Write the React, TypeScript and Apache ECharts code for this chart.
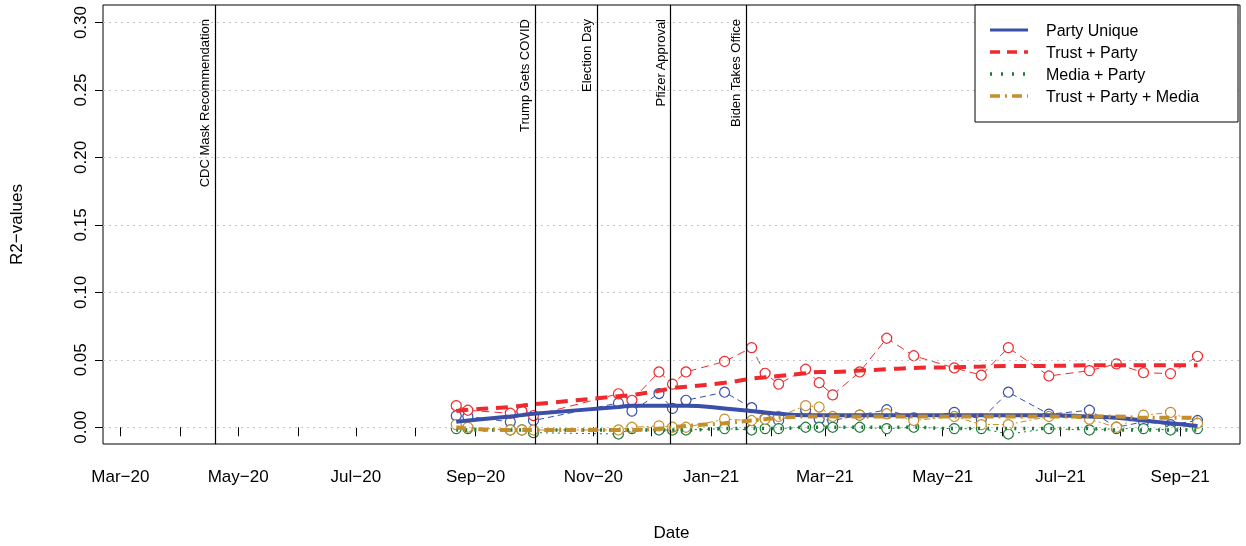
import React, { useEffect, useRef } from "react";
import * as echarts from "echarts";

const dates = ["2020-08-22", "2020-08-28", "2020-09-19", "2020-09-25", "2020-10-01", "2020-11-14", "2020-11-21", "2020-12-05", "2020-12-12", "2020-12-19", "2021-01-08", "2021-01-22", "2021-01-29", "2021-02-05", "2021-02-19", "2021-02-26", "2021-03-05", "2021-03-19", "2021-04-02", "2021-04-16", "2021-05-07", "2021-05-21", "2021-06-04", "2021-06-25", "2021-07-16", "2021-07-30", "2021-08-13", "2021-08-27", "2021-09-10"];

// 散点（各期调查的 R2）
const partyUnique = [0.0085, 0.008, 0.004, 0.012, 0.005, 0.018, 0.012, 0.025, 0.014, 0.02, 0.026, 0.0145, 0.0066, 0.005, 0.013, 0.006, 0.005, 0.009, 0.013, 0.007, 0.011, 0.006, 0.026, 0.0097, 0.0126, 0.0, 0.004, 0.002, 0.005];
const trustParty = [0.016, 0.0126, 0.0104, 0.0119, 0.0087, 0.0248, 0.02, 0.041, 0.032, 0.041, 0.0488, 0.059, 0.04, 0.032, 0.043, 0.033, 0.024, 0.041, 0.066, 0.053, 0.044, 0.0386, 0.059, 0.038, 0.042, 0.047, 0.0405, 0.0398, 0.0526];
const mediaParty = [-0.001, -0.001, -0.002, -0.002, -0.004, -0.005, -0.001, -0.002, -0.002, -0.002, -0.001, -0.002, -0.001, -0.001, 0.0, 0.0, 0.0, 0.0, -0.001, 0.0, -0.001, -0.001, -0.005, -0.001, -0.002, -0.001, -0.001, -0.002, -0.001];
const trustPartyMedia = [0.002, 0.0, -0.002, -0.002, -0.002, -0.002, 0.0, 0.001, 0.0, 0.0, 0.006, 0.005, 0.006, 0.008, 0.016, 0.015, 0.008, 0.009, 0.01, 0.005, 0.008, 0.002, 0.002, 0.008, 0.006, 0.0, 0.009, 0.011, 0.003];

// 平滑拟合
const blueFit = [0.004, 0.005, 0.008, 0.009, 0.01, 0.015, 0.016, 0.016, 0.016, 0.016, 0.014, 0.012, 0.011, 0.01, 0.009, 0.009, 0.009, 0.009, 0.009, 0.009, 0.009, 0.009, 0.009, 0.009, 0.008, 0.007, 0.005, 0.003, 0.001];
const redFit = [0.012, 0.013, 0.015, 0.016, 0.017, 0.023, 0.024, 0.027, 0.029, 0.03, 0.033, 0.036, 0.037, 0.038, 0.04, 0.041, 0.041, 0.042, 0.043, 0.044, 0.0445, 0.045, 0.0455, 0.0455, 0.046, 0.046, 0.046, 0.046, 0.046];
const greenFit = [-0.002, -0.002, -0.002, -0.002, -0.002, -0.002, -0.002, -0.002, -0.002, -0.002, -0.001, -0.001, -0.001, -0.001, 0.0, 0.0, 0.0, 0.0, 0.0, 0.0, -0.001, -0.001, -0.001, -0.001, -0.001, -0.002, -0.002, -0.002, -0.002];
const goldFit = [0.0, -0.001, -0.002, -0.002, -0.002, -0.002, -0.002, -0.001, 0.0, 0.001, 0.003, 0.005, 0.006, 0.007, 0.008, 0.008, 0.008, 0.008, 0.008, 0.008, 0.008, 0.008, 0.008, 0.008, 0.008, 0.008, 0.007, 0.007, 0.007];

// 置信带半宽
const blueHalf = [0.003, 0.003, 0.003, 0.003, 0.003, 0.003, 0.003, 0.003, 0.003, 0.003, 0.003, 0.003, 0.003, 0.003, 0.003, 0.003, 0.003, 0.003, 0.003, 0.003, 0.003, 0.003, 0.003, 0.003, 0.003, 0.003, 0.004, 0.005, 0.006];
const redHalf = [0.006, 0.006, 0.005, 0.005, 0.005, 0.005, 0.005, 0.005, 0.005, 0.005, 0.005, 0.005, 0.005, 0.005, 0.005, 0.005, 0.005, 0.005, 0.005, 0.005, 0.005, 0.005, 0.005, 0.005, 0.005, 0.006, 0.006, 0.007, 0.008];
const greenHalf = [0.002, 0.002, 0.002, 0.002, 0.002, 0.002, 0.002, 0.002, 0.002, 0.002, 0.002, 0.002, 0.002, 0.002, 0.002, 0.002, 0.002, 0.002, 0.002, 0.002, 0.002, 0.002, 0.002, 0.002, 0.002, 0.002, 0.002, 0.003, 0.003];
const goldHalf = [0.003, 0.003, 0.003, 0.003, 0.003, 0.003, 0.003, 0.003, 0.003, 0.003, 0.003, 0.003, 0.003, 0.003, 0.003, 0.003, 0.003, 0.003, 0.003, 0.003, 0.003, 0.003, 0.003, 0.003, 0.003, 0.003, 0.003, 0.004, 0.004];

const events = [
  { date: "2020-04-19", name: "CDC Mask Recommendation" },
  { date: "2020-10-02", name: "Trump Gets COVID" },
  { date: "2020-11-03", name: "Election Day" },
  { date: "2020-12-11", name: "Pfizer Approval" },
  { date: "2021-01-19", name: "Biden Takes Office" },
];

const yTicks = [0, 0.05, 0.1, 0.15, 0.2, 0.25, 0.3];
const monthTicks = ["2020-03-01", "2020-04-01", "2020-05-01", "2020-06-01", "2020-07-01", "2020-08-01", "2020-09-01", "2020-10-01", "2020-11-01", "2020-12-01", "2021-01-01", "2021-02-01", "2021-03-01", "2021-04-01", "2021-05-01", "2021-06-01", "2021-07-01", "2021-08-01", "2021-09-01"];
const labelMonths = monthTicks.filter((_, i) => i % 2 === 0);
const monthNames = ["Jan", "Feb", "Mar", "Apr", "May", "Jun", "Jul", "Aug", "Sep", "Oct", "Nov", "Dec"];

const legendItems = [
  { name: "Party Unique", color: "#3a4fa8", dash: [] as number[], width: 3 },
  { name: "Trust + Party", color: "#ee2a2e", dash: [10, 7], width: 3.5 },
  { name: "Media + Party", color: "#1e7a3a", dash: [2, 9], width: 3.5 },
  { name: "Trust + Party + Media", color: "#c48f2a", dash: [10, 5, 2, 5], width: 3.5 },
];

const FONT = "Liberation Sans, Arial, sans-serif";

const App: React.FC = () => {
  const chartRef = useRef<HTMLDivElement>(null);

  useEffect(() => {
    const chart = echarts.init(chartRef.current, null, { renderer: "svg" });
    const ts = (d: string) => new Date(d + "T00:00:00Z").getTime();

    const groups = [
      { pts: partyUnique, fit: blueFit, half: blueHalf, color: "#3a4fa8", band: "rgba(120,190,230,0.45)", fitType: "solid" as any, fitW: 4, ptLine: [6, 4] },
      { pts: trustParty, fit: redFit, half: redHalf, color: "#ee2a2e", band: "rgba(245,160,180,0.5)", fitType: [12, 8], fitW: 4, ptLine: [8, 5] },
      { pts: mediaParty, fit: greenFit, half: greenHalf, color: "#1e7a3a", band: "rgba(140,205,140,0.5)", fitType: [2, 7], fitW: 3.5, ptLine: [2, 4] },
      { pts: trustPartyMedia, fit: goldFit, half: goldHalf, color: "#c48f2a", band: "rgba(238,215,110,0.55)", fitType: [10, 5, 2, 5], fitW: 4, ptLine: [6, 3, 2, 3] },
    ];

    const series: any[] = [];
    groups.forEach((g, gi) => {
      series.push({
        type: "line", stack: "band" + gi, stackStrategy: "all", symbol: "none", silent: true,
        lineStyle: { opacity: 0 },
        data: dates.map((d, i) => [ts(d), g.fit[i] - g.half[i]]),
      });
      series.push({
        type: "line", stack: "band" + gi, stackStrategy: "all", symbol: "none", silent: true,
        lineStyle: { opacity: 0 }, areaStyle: { color: g.band },
        data: dates.map((d, i) => [ts(d), 2 * g.half[i]]),
      });
    });
    groups.forEach((g) => {
      series.push({
        type: "line", symbol: "circle", symbolSize: 10, showSymbol: true,
        itemStyle: { color: "#ffffff", borderColor: g.color, borderWidth: 1.2 },
        lineStyle: { color: g.color, width: 1, type: g.ptLine },
        data: dates.map((d, i) => [ts(d), g.pts[i]]),
      });
    });
    groups.forEach((g) => {
      series.push({
        type: "line", symbol: "none", smooth: true, z: 5,
        lineStyle: { color: g.color, width: g.fitW, type: g.fitType },
        data: dates.map((d, i) => [ts(d), g.fit[i]]),
      });
    });
    // 网格线与事件线
    series.push({
      type: "line", data: [], symbol: "none",
      markLine: {
        silent: true, symbol: "none", animation: false,
        lineStyle: { color: "#c8c8c8", type: [2, 4], width: 1 },
        label: { show: false },
        data: yTicks.map((v) => ({ yAxis: v })),
      },
    });
    series.push({
      type: "line", data: [], symbol: "none",
      markLine: {
        silent: true, symbol: "none", animation: false,
        lineStyle: { color: "#000", type: "solid", width: 1.2 },
        label: { show: true, position: "insideEndTop", fontFamily: FONT, fontSize: 13, color: "#000", distance: [14, 4] },
        data: events.map((e) => ({ xAxis: ts(e.date), label: { formatter: e.name } })),
      },
    });

    const graphic: any[] = [
      { type: "rect", shape: { x: 975, y: 5, width: 263, height: 117 }, style: { fill: "#fff", stroke: "#000", lineWidth: 1 }, z: 100 },
    ];
    legendItems.forEach((it, i) => {
      const y = 30 + i * 22;
      graphic.push({ type: "line", shape: { x1: 990, y1: y, x2: 1028, y2: y }, style: { stroke: it.color, lineWidth: it.width, lineDash: it.dash }, z: 101 });
      graphic.push({ type: "text", x: 1046, y, style: { text: it.name, font: `16px ${FONT}`, fill: "#000", textVerticalAlign: "middle" }, z: 101 });
    });

    chart.setOption({
      animation: false,
      textStyle: { fontFamily: FONT },
      grid: { left: 95, right: 6, top: 5, bottom: 94, show: true, borderColor: "#000", borderWidth: 1 },
      xAxis: {
        type: "value", min: ts("2020-02-21"), max: ts("2021-10-02"),
        name: "Date", nameLocation: "middle", nameGap: 80,
        nameTextStyle: { fontSize: 17, color: "#000", fontFamily: FONT },
        axisLine: { show: false },
        axisTick: { show: true, inside: false, length: 9, lineStyle: { color: "#000" }, customValues: monthTicks.map(ts) },
        axisLabel: {
          color: "#000", fontSize: 17, margin: 24, fontFamily: FONT,
          customValues: labelMonths.map(ts),
          formatter: (v: number) => {
            const d = new Date(v);
            return monthNames[d.getUTCMonth()] + "\u2212" + String(d.getUTCFullYear()).slice(2);
          },
        },
        splitLine: { show: false },
      },
      yAxis: {
        type: "value", min: -0.0124, max: 0.313,
        name: "R2\u2212values", nameLocation: "middle", nameGap: 78,
        nameTextStyle: { fontSize: 17, color: "#000", fontFamily: FONT },
        axisLine: { show: false },
        axisTick: { show: true, length: 8, lineStyle: { color: "#000" }, customValues: yTicks },
        axisLabel: {
          color: "#000", fontSize: 17, rotate: 90, margin: 14, fontFamily: FONT,
          customValues: yTicks, formatter: (v: number) => v.toFixed(2),
        },
        splitLine: { show: false },
      },
      graphic,
      series,
    });
    return () => chart.dispose();
  }, []);

  return <div ref={chartRef} style={{ position: "fixed", left: 0, top: 0, width: 1246, height: 546 }} />;
};

export default App;
